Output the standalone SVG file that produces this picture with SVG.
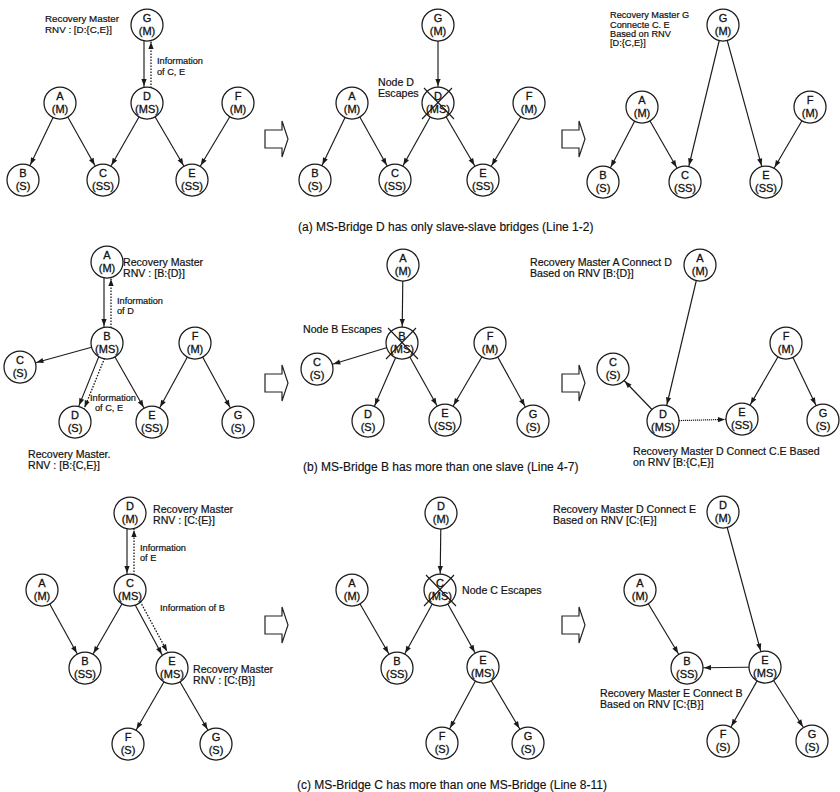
<svg xmlns="http://www.w3.org/2000/svg" width="840" height="792" viewBox="0 0 840 792">
<style>
.node circle{fill:#fff;stroke:#1a1a1a;stroke-width:1.25}
.node text{font-family:"Liberation Sans",Arial,sans-serif;font-size:11px;text-anchor:middle;fill:#111;stroke:#111;stroke-width:0.3}
.x{stroke:#1a1a1a;stroke-width:1.1;fill:none}
.e{stroke:#1a1a1a;stroke-width:1.15;fill:none;marker-end:url(#ah)}
.d{stroke:#1a1a1a;stroke-width:1.3;fill:none;stroke-dasharray:1.6 1.4;marker-end:url(#ah)}
.f{stroke:#1a1a1a;stroke-width:1.2;fill:none;stroke-dasharray:1.2 0.8;marker-end:url(#ah)}
.lbl{font-family:"Liberation Sans",Arial,sans-serif;font-size:10.6px;fill:#111;stroke:#111;stroke-width:0.2}
.inf{font-size:9.2px}
.sm{font-size:9.2px}
.cap{font-family:"Liberation Sans",Arial,sans-serif;font-size:12px;fill:#111;stroke:#111;stroke-width:0.15}
.step{fill:#fff;stroke:#222;stroke-width:1.2;stroke-linejoin:miter}
</style>
<defs>
<marker id="ah" markerUnits="userSpaceOnUse" markerWidth="40" markerHeight="10" viewBox="-30 -5 40 10" refX="0" refY="0" orient="auto">
<path d="M-17,0 L-24,-2.6 L-24,2.6 Z" fill="#1a1a1a"/>
</marker>
<path id="blk" d="M0,-9 H17 V-18 L23,0 L17,18 V9 H0 Z"/>
</defs>
<rect width="840" height="792" fill="#fff"/>

<g id="connectors">
<!-- a1 -->
<line class="e" x1="144" y1="25" x2="144" y2="103"/>
<line class="d" x1="151" y1="103" x2="151" y2="25"/>
<line class="e" x1="60" y1="103" x2="23" y2="180"/>
<line class="e" x1="60" y1="103" x2="103" y2="180"/>
<line class="e" x1="147" y1="103" x2="103" y2="180"/>
<line class="e" x1="147" y1="103" x2="192" y2="180"/>
<line class="e" x1="238" y1="103" x2="192" y2="180"/>
<!-- a2 -->
<line class="e" x1="438" y1="25" x2="438" y2="103"/>
<line class="e" x1="352" y1="103" x2="315" y2="180"/>
<line class="e" x1="352" y1="103" x2="395" y2="180"/>
<line class="e" x1="438" y1="103" x2="395" y2="180"/>
<line class="e" x1="438" y1="103" x2="483" y2="180"/>
<line class="e" x1="529" y1="103" x2="483" y2="180"/>
<!-- a3 -->
<line class="e" x1="642" y1="107" x2="603" y2="182"/>
<line class="e" x1="642" y1="107" x2="685" y2="182"/>
<line class="e" x1="723" y1="25" x2="685" y2="182"/>
<line class="e" x1="723" y1="25" x2="766" y2="182"/>
<line class="e" x1="810" y1="107" x2="766" y2="182"/>
<!-- b1 -->
<line class="e" x1="104" y1="262" x2="104" y2="343"/>
<line class="d" x1="111" y1="343" x2="111" y2="262"/>
<line class="e" x1="107" y1="343" x2="20" y2="367"/>
<line class="e" x1="104.7" y1="342.1" x2="72.7" y2="421.1"/>
<line class="d" x1="110.2" y1="344.3" x2="78.2" y2="423.3"/>
<line class="e" x1="107" y1="343" x2="152" y2="422"/>
<line class="e" x1="195" y1="343" x2="152" y2="422"/>
<line class="e" x1="195" y1="343" x2="238" y2="422"/>
<!-- b2 -->
<line class="e" x1="403" y1="265" x2="402" y2="343"/>
<line class="e" x1="402" y1="343" x2="317" y2="369"/>
<line class="e" x1="402" y1="343" x2="368" y2="421"/>
<line class="e" x1="402" y1="343" x2="445" y2="420"/>
<line class="e" x1="490" y1="343" x2="445" y2="420"/>
<line class="e" x1="490" y1="343" x2="533" y2="421"/>
<!-- b3 -->
<line class="e" x1="700" y1="265" x2="663" y2="421"/>
<line class="e" x1="663" y1="421" x2="613" y2="369"/>
<line class="f" x1="663" y1="421" x2="742" y2="419"/>
<line class="e" x1="786" y1="343" x2="742" y2="419"/>
<line class="e" x1="786" y1="343" x2="823" y2="420"/>
<!-- c1 -->
<line class="e" x1="127" y1="513" x2="127" y2="590"/>
<line class="d" x1="134" y1="590" x2="134" y2="513"/>
<line class="e" x1="42" y1="590" x2="85" y2="668"/>
<line class="e" x1="130" y1="590" x2="85" y2="668"/>
<line class="e" x1="127.8" y1="591.2" x2="169.8" y2="669.2"/>
<line class="d" x1="133.1" y1="588.3" x2="175.1" y2="666.3"/>
<line class="e" x1="172" y1="668" x2="128" y2="744"/>
<line class="e" x1="172" y1="668" x2="216" y2="744"/>
<!-- c2 -->
<line class="e" x1="441" y1="513" x2="440" y2="590"/>
<line class="e" x1="352" y1="590" x2="397" y2="668"/>
<line class="e" x1="440" y1="590" x2="397" y2="668"/>
<line class="e" x1="440" y1="590" x2="483" y2="667"/>
<line class="e" x1="483" y1="667" x2="442" y2="743"/>
<line class="e" x1="483" y1="667" x2="528" y2="743"/>
<!-- c3 -->
<line class="e" x1="723" y1="512" x2="765" y2="667"/>
<line class="e" x1="640" y1="590" x2="687" y2="668"/>
<line class="e" x1="765" y1="667" x2="687" y2="668"/>
<line class="e" x1="765" y1="667" x2="723" y2="741"/>
<line class="e" x1="765" y1="667" x2="812" y2="741"/>
</g>

<g id="steps" class="step">
<use href="#blk" transform="translate(265,139)"/>
<use href="#blk" transform="translate(562,139)"/>
<use href="#blk" transform="translate(265,383)"/>
<use href="#blk" transform="translate(562,383)"/>
<use href="#blk" transform="translate(265,625)"/>
<use href="#blk" transform="translate(562,625)"/>
</g>

<!-- panel a1 -->
<g id="a1-G" class="node" transform="translate(147,25)"><circle r="16"/><text y="-3">G</text><text y="10">(M)</text></g>
<g id="a1-A" class="node" transform="translate(60,103)"><circle r="16"/><text y="-3">A</text><text y="10">(M)</text></g>
<g id="a1-D" class="node" transform="translate(147,103)"><circle r="16"/><text y="-3">D</text><text y="10">(MS)</text></g>
<g id="a1-F" class="node" transform="translate(238,103)"><circle r="16"/><text y="-3">F</text><text y="10">(M)</text></g>
<g id="a1-B" class="node" transform="translate(23,180)"><circle r="16"/><text y="-3">B</text><text y="10">(S)</text></g>
<g id="a1-C" class="node" transform="translate(103,180)"><circle r="16"/><text y="-3">C</text><text y="10">(SS)</text></g>
<g id="a1-E" class="node" transform="translate(192,180)"><circle r="16"/><text y="-3">E</text><text y="10">(SS)</text></g>
<g id="a1-labels" class="lbl">
<text x="45" y="22" style="font-size:9.8px">Recovery Master</text>
<text x="45" y="33" style="font-size:9.8px">RNV : [D:{C,E}]</text>
<text class="inf" x="157" y="64">Information</text>
<text class="inf" x="157" y="75">of C, E</text>
</g>

<!-- panel a2 -->
<g id="a2-G" class="node" transform="translate(438,25)"><circle r="16"/><text y="-3">G</text><text y="10">(M)</text></g>
<g id="a2-A" class="node" transform="translate(352,103)"><circle r="16"/><text y="-3">A</text><text y="10">(M)</text></g>
<g id="a2-D" class="node" transform="translate(438,103)"><circle r="16"/><text y="-3">D</text><text y="10">(MS)</text><path class="x" d="M-14,-15 L16,16 M14,-15 L-16,16"/></g>
<g id="a2-F" class="node" transform="translate(529,103)"><circle r="16"/><text y="-3">F</text><text y="10">(M)</text></g>
<g id="a2-B" class="node" transform="translate(315,180)"><circle r="16"/><text y="-3">B</text><text y="10">(S)</text></g>
<g id="a2-C" class="node" transform="translate(395,180)"><circle r="16"/><text y="-3">C</text><text y="10">(SS)</text></g>
<g id="a2-E" class="node" transform="translate(483,180)"><circle r="16"/><text y="-3">E</text><text y="10">(SS)</text></g>
<g id="a2-labels" class="lbl">
<text x="378" y="86">Node D</text>
<text x="378" y="97">Escapes</text>
</g>

<!-- panel a3 -->
<g id="a3-G" class="node" transform="translate(723,25)"><circle r="16"/><text y="-3">G</text><text y="10">(M)</text></g>
<g id="a3-A" class="node" transform="translate(642,107)"><circle r="16"/><text y="-3">A</text><text y="10">(M)</text></g>
<g id="a3-F" class="node" transform="translate(810,107)"><circle r="16"/><text y="-3">F</text><text y="10">(M)</text></g>
<g id="a3-B" class="node" transform="translate(603,182)"><circle r="16"/><text y="-3">B</text><text y="10">(S)</text></g>
<g id="a3-C" class="node" transform="translate(685,182)"><circle r="16"/><text y="-3">C</text><text y="10">(SS)</text></g>
<g id="a3-E" class="node" transform="translate(766,182)"><circle r="16"/><text y="-3">E</text><text y="10">(SS)</text></g>
<g id="a3-labels" class="lbl sm">
<text x="610" y="18">Recovery Master G</text>
<text x="610" y="28">Connecte C. E</text>
<text x="610" y="37">Based on RNV</text>
<text x="610" y="46">[D:{C,E}]</text>
</g>

<text id="cap-a" class="cap" x="298" y="231">(a) MS-Bridge D has only slave-slave bridges (Line 1-2)</text>

<!-- panel b1 -->
<g id="b1-A" class="node" transform="translate(107,262)"><circle r="16"/><text y="-3">A</text><text y="10">(M)</text></g>
<g id="b1-B" class="node" transform="translate(107,343)"><circle r="16"/><text y="-3">B</text><text y="10">(MS)</text></g>
<g id="b1-C" class="node" transform="translate(20,367)"><circle r="16"/><text y="-3">C</text><text y="10">(S)</text></g>
<g id="b1-F" class="node" transform="translate(195,343)"><circle r="16"/><text y="-3">F</text><text y="10">(M)</text></g>
<g id="b1-D" class="node" transform="translate(75,422)"><circle r="16"/><text y="-3">D</text><text y="10">(S)</text></g>
<g id="b1-E" class="node" transform="translate(152,422)"><circle r="16"/><text y="-3">E</text><text y="10">(SS)</text></g>
<g id="b1-G" class="node" transform="translate(238,422)"><circle r="16"/><text y="-3">G</text><text y="10">(S)</text></g>
<g id="b1-labels" class="lbl">
<text x="123" y="266">Recovery Master</text>
<text x="123" y="277">RNV : [B:{D}]</text>
<text class="inf" x="117" y="304">Information</text>
<text class="inf" x="117" y="314">of D</text>
<text class="inf" x="90" y="401">Information</text>
<text class="inf" x="95" y="411">of C, E</text>
<text x="28" y="458">Recovery Master.</text>
<text x="28" y="469">RNV : [B:{C,E}]</text>
</g>

<!-- panel b2 -->
<g id="b2-A" class="node" transform="translate(403,265)"><circle r="16"/><text y="-3">A</text><text y="10">(M)</text></g>
<g id="b2-B" class="node" transform="translate(402,343)"><circle r="16"/><text y="-3">B</text><text y="10">(MS)</text><path class="x" d="M-14,-15 L16,16 M14,-15 L-16,16"/></g>
<g id="b2-C" class="node" transform="translate(317,369)"><circle r="16"/><text y="-3">C</text><text y="10">(S)</text></g>
<g id="b2-F" class="node" transform="translate(490,343)"><circle r="16"/><text y="-3">F</text><text y="10">(M)</text></g>
<g id="b2-D" class="node" transform="translate(368,421)"><circle r="16"/><text y="-3">D</text><text y="10">(S)</text></g>
<g id="b2-E" class="node" transform="translate(445,420)"><circle r="16"/><text y="-3">E</text><text y="10">(SS)</text></g>
<g id="b2-G" class="node" transform="translate(533,421)"><circle r="16"/><text y="-3">G</text><text y="10">(S)</text></g>
<g id="b2-labels" class="lbl">
<text x="303" y="333">Node B Escapes</text>
</g>

<!-- panel b3 -->
<g id="b3-A" class="node" transform="translate(700,265)"><circle r="16"/><text y="-3">A</text><text y="10">(M)</text></g>
<g id="b3-C" class="node" transform="translate(613,369)"><circle r="16"/><text y="-3">C</text><text y="10">(S)</text></g>
<g id="b3-F" class="node" transform="translate(786,343)"><circle r="16"/><text y="-3">F</text><text y="10">(M)</text></g>
<g id="b3-D" class="node" transform="translate(663,421)"><circle r="16"/><text y="-3">D</text><text y="10">(MS)</text></g>
<g id="b3-E" class="node" transform="translate(742,419)"><circle r="16"/><text y="-3">E</text><text y="10">(SS)</text></g>
<g id="b3-G" class="node" transform="translate(823,420)"><circle r="16"/><text y="-3">G</text><text y="10">(S)</text></g>
<g id="b3-labels" class="lbl">
<text x="530" y="266">Recovery Master A Connect D</text>
<text x="530" y="277">Based on RNV [B:{D}]</text>
<text x="633" y="455">Recovery Master D Connect C.E Based</text>
<text x="633" y="466">on RNV [B:{C,E}]</text>
</g>

<text id="cap-b" class="cap" x="303" y="471">(b) MS-Bridge B has more than one slave (Line 4-7)</text>

<!-- panel c1 -->
<g id="c1-D" class="node" transform="translate(130,513)"><circle r="16"/><text y="-3">D</text><text y="10">(M)</text></g>
<g id="c1-C" class="node" transform="translate(130,590)"><circle r="16"/><text y="-3">C</text><text y="10">(MS)</text></g>
<g id="c1-A" class="node" transform="translate(42,590)"><circle r="16"/><text y="-3">A</text><text y="10">(M)</text></g>
<g id="c1-B" class="node" transform="translate(85,668)"><circle r="16"/><text y="-3">B</text><text y="10">(SS)</text></g>
<g id="c1-E" class="node" transform="translate(172,668)"><circle r="16"/><text y="-3">E</text><text y="10">(MS)</text></g>
<g id="c1-F" class="node" transform="translate(128,744)"><circle r="16"/><text y="-3">F</text><text y="10">(S)</text></g>
<g id="c1-G" class="node" transform="translate(216,744)"><circle r="16"/><text y="-3">G</text><text y="10">(S)</text></g>
<g id="c1-labels" class="lbl">
<text x="153" y="513">Recovery Master</text>
<text x="153" y="524">RNV : [C:{E}]</text>
<text class="inf" x="140" y="551">Information</text>
<text class="inf" x="140" y="561">of E</text>
<text class="inf" x="160" y="611">Information of B</text>
<text x="193" y="673">Recovery Master</text>
<text x="193" y="684">RNV : [C:{B}]</text>
</g>

<!-- panel c2 -->
<g id="c2-D" class="node" transform="translate(441,513)"><circle r="16"/><text y="-3">D</text><text y="10">(M)</text></g>
<g id="c2-C" class="node" transform="translate(440,590)"><circle r="16"/><text y="-3">C</text><text y="10">(MS)</text><path class="x" d="M-14,-15 L16,16 M14,-15 L-16,16"/></g>
<g id="c2-A" class="node" transform="translate(352,590)"><circle r="16"/><text y="-3">A</text><text y="10">(M)</text></g>
<g id="c2-B" class="node" transform="translate(397,668)"><circle r="16"/><text y="-3">B</text><text y="10">(SS)</text></g>
<g id="c2-E" class="node" transform="translate(483,667)"><circle r="16"/><text y="-3">E</text><text y="10">(MS)</text></g>
<g id="c2-F" class="node" transform="translate(442,743)"><circle r="16"/><text y="-3">F</text><text y="10">(S)</text></g>
<g id="c2-G" class="node" transform="translate(528,743)"><circle r="16"/><text y="-3">G</text><text y="10">(S)</text></g>
<g id="c2-labels" class="lbl">
<text x="462" y="594">Node C Escapes</text>
</g>

<!-- panel c3 -->
<g id="c3-D" class="node" transform="translate(723,512)"><circle r="16"/><text y="-3">D</text><text y="10">(M)</text></g>
<g id="c3-A" class="node" transform="translate(640,590)"><circle r="16"/><text y="-3">A</text><text y="10">(M)</text></g>
<g id="c3-B" class="node" transform="translate(687,668)"><circle r="16"/><text y="-3">B</text><text y="10">(SS)</text></g>
<g id="c3-E" class="node" transform="translate(765,667)"><circle r="16"/><text y="-3">E</text><text y="10">(MS)</text></g>
<g id="c3-F" class="node" transform="translate(723,741)"><circle r="16"/><text y="-3">F</text><text y="10">(S)</text></g>
<g id="c3-G" class="node" transform="translate(812,741)"><circle r="16"/><text y="-3">G</text><text y="10">(S)</text></g>
<g id="c3-labels" class="lbl">
<text x="553" y="513">Recovery Master D Connect E</text>
<text x="553" y="524">Based on RNV [C:{E}]</text>
<text x="600" y="697">Recovery Master E Connect B</text>
<text x="600" y="708">Based on RNV [C:{B}]</text>
</g>

<text id="cap-c" class="cap" x="297" y="789">(c) MS-Bridge C has more than one MS-Bridge (Line 8-11)</text>
</svg>
